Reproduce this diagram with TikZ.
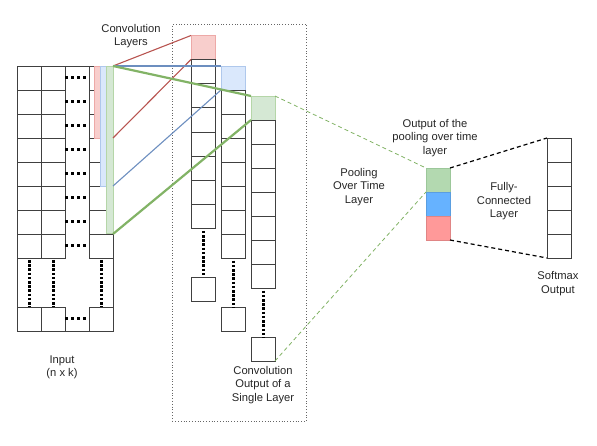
\documentclass[tikz,border=0pt]{standalone}
\usepackage{fontspec}
\setmainfont{Liberation Sans}
\definecolor{pinkF}{HTML}{F8CECC}
\definecolor{pinkD}{HTML}{EDA9A7}
\definecolor{blueF}{HTML}{DAE8FC}
\definecolor{blueD}{HTML}{AFC8EC}
\definecolor{greenF}{HTML}{D5E8D4}
\definecolor{greenD}{HTML}{B5D6A8}
\definecolor{redL}{HTML}{B85450}
\definecolor{blueL}{HTML}{6C8EBF}
\definecolor{greenL}{HTML}{82B366}
\definecolor{poolG}{HTML}{B3D9B0}
\definecolor{poolGd}{HTML}{9CC79A}
\definecolor{poolB}{HTML}{66B2FF}
\definecolor{poolBd}{HTML}{5A9EE0}
\definecolor{poolR}{HTML}{FF9999}
\definecolor{poolRd}{HTML}{E08585}
\begin{document}
\begin{tikzpicture}[x=1pt,y=-1pt,
  gridline/.style={draw=black!75, line width=0.8pt},
  cell/.style={gridline, minimum width=24pt, minimum height=24pt, inner sep=0pt, outer sep=0pt, anchor=north west},
  sq/.style={line width=0.8pt, minimum width=24pt, minimum height=24pt, inner sep=0pt, outer sep=0pt, anchor=north west},
  strip/.style={line width=0.6pt, minimum width=6pt, inner sep=0pt, outer sep=0pt, anchor=north west},
  hdots/.style={line width=3pt, dash pattern=on 3pt off 3pt, black},
  vdots/.style={line width=3pt, dash pattern=on 2.6pt off 1.6pt, black},
  lbl/.style={align=center, font=\fontsize{11.2}{13.4}\selectfont, text=black!85, inner sep=0pt},
  gdash/.style={draw=greenL, line width=0.8pt, dash pattern=on 4pt off 3pt},
  kdash/.style={draw=black, line width=1.2pt, dash pattern=on 4pt off 3pt}
]
\useasboundingbox (0,0) rectangle (597,446);

% dotted frame around convolution outputs
\node[draw=black!60, dotted, line width=0.8pt, minimum width=134pt, minimum height=397pt, inner sep=0pt, anchor=north west] (convbox) at (172,24) {};

% ---------- input matrix ----------
\foreach \c/\x in {1/17,2/41,4/89}{
  \foreach \r in {1,...,8}{
    \node[cell] (in\c-\r) at (\x,{66+24*(\r-1)}) {};
  }
  \node[cell] (in\c-b) at (\x,307) {};
}
\draw[gridline] (in2-1.north east) -- (in4-1.north west);
\draw[gridline] (in2-b.south east) -- (in4-b.south west);
\draw[gridline] (in1-8.south west) -- (in1-b.north west);
\draw[gridline] (in4-8.south east) -- (in4-b.north east);
\foreach \r in {1,...,8,b}{
  \draw[hdots] (in2-\r.east) -- ([xshift=-3pt]in4-\r.west);
}
\foreach \c in {1,2,4}{
  \draw[vdots] ([yshift=-2pt]in\c-8.south) -- (in\c-b.north);
}
% filter strips
\node[strip, fill=pinkF, draw=pinkD, minimum height=72pt] (fp) at (94,66) {};
\node[strip, fill=blueF, draw=blueD, minimum height=120pt] (fb) at (100,66) {};
\node[strip, fill=greenF, draw=greenD, minimum height=167pt, minimum width=7.4pt] (fg) at (106,66) {};

% ---------- convolution outputs ----------
\node[sq, fill=pinkF, draw=pinkD] (c1t) at (191,35.5) {};
\foreach \r in {1,...,7}{ \node[cell, minimum height=24.2pt] (c1-\r) at (191,{59.5+24.2*(\r-1)}) {}; }
\node[cell] (c1-b) at (191,277) {};
\draw[vdots] ([yshift=-2pt]c1-7.south) -- (c1-b.north);

\node[sq, fill=blueF, draw=blueD] (c2t) at (221,66) {};
\foreach \r in {1,...,7}{ \node[cell, minimum height=24.1pt] (c2-\r) at (221,{90+24.1*(\r-1)}) {}; }
\node[cell] (c2-b) at (221,307) {};
\draw[vdots] ([yshift=-2pt]c2-7.south) -- (c2-b.north);

\node[sq, fill=greenF, draw=greenD] (c3t) at (251,96) {};
\foreach \r in {1,...,7}{ \node[cell, minimum height=24.1pt] (c3-\r) at (251,{120+24.1*(\r-1)}) {}; }
\node[cell] (c3-b) at (251,337) {};
\draw[vdots] ([yshift=-2pt]c3-7.south) -- (c3-b.north);

% ---------- filter connectors ----------
\draw[redL, line width=1.1pt] (in4-1.north east) -- (c1t.north west);
\draw[redL, line width=1.1pt] (in4-3.south east) -- (c1t.south west);
\draw[blueL, line width=1.1pt] (in4-1.north east) -- (c2t.north west);
\draw[blueL, line width=1.1pt] (in4-5.south east) -- (c2t.south west);
\draw[greenL, line width=2.2pt] (in4-1.north east) -- (c3t.north west);
\draw[greenL, line width=2.2pt] (in4-7.south east) -- (c3t.south west);

% ---------- pooling output ----------
\node[sq, fill=poolG, draw=poolGd] (pg) at (426,168) {};
\node[sq, fill=poolB, draw=poolBd] (pb) at (426,192) {};
\node[sq, fill=poolR, draw=poolRd] (pr) at (426,216) {};

\draw[gdash] (c3t.north east) -- (pg.north west);
\draw[gdash] (c3-b.south east) -- (pg.south west);

% ---------- softmax ----------
\foreach \r in {1,...,5}{ \node[cell] (sm-\r) at (547,{138+24*(\r-1)}) {}; }
\draw[kdash] (pg.north east) -- (sm-1.north west);
\draw[kdash] (pr.south east) -- (sm-5.south west);

% ---------- labels ----------
\node[lbl] (tconv) at (131,36) {Convolution\\Layers};
\node[lbl] (tin) at (62,367.5) {Input\\(n x k)};
\node[lbl] (tcout) at (263,385) {Convolution\\Output of a\\Single Layer};
\node[lbl] (tpool) at (359,187) {Pooling\\Over Time\\Layer};
\node[lbl] (tpout) at (435,138) {Output of the\\pooling over time\\layer};
\node[lbl] (tfc) at (504,201.5) {Fully-\\Connected\\Layer};
\node[lbl] (tsm) at (558,283.5) {Softmax\\Output};
\end{tikzpicture}
\end{document}
